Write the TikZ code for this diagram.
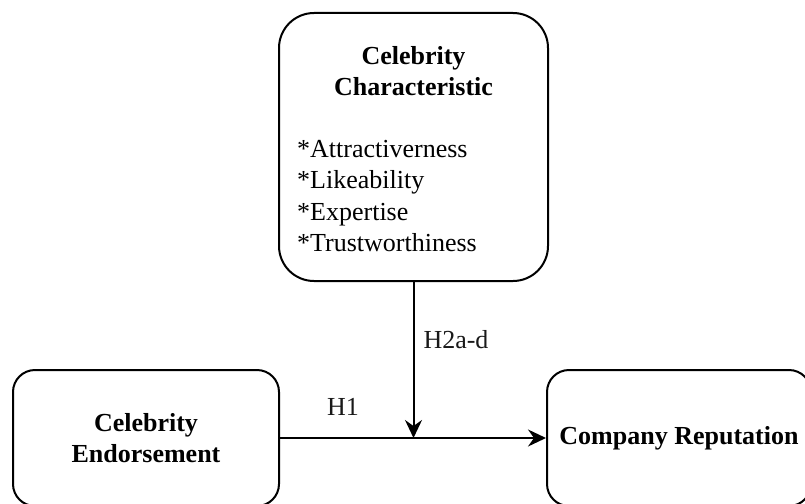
\documentclass[tikz,border=0pt]{standalone}
\usepackage{fontspec}
\setmainfont{Liberation Serif}
\usetikzlibrary{arrows.meta}
\begin{document}
\begin{tikzpicture}[x=1pt,y=-1pt,
  every node/.style={font=\fontsize{26}{31.5}\selectfont, inner sep=0pt},
  box/.style={draw=black, line width=2pt, fill=white},
  conn/.style={line width=2pt, -{Stealth[length=18pt,width=17pt,inset=6pt]}},
  lbl/.style={text=black!90}]
\useasboundingbox (0,0) rectangle (805,503);
\node[box, rounded corners=35pt, minimum width=269pt, minimum height=268pt] (top) at (413.5,147) {};
\node[align=center, font=\fontsize{26}{31.5}\selectfont\bfseries] (toptitle) at (413.5,71) {Celebrity\\Characteristic};
\node[align=left, anchor=west] (toplist) at (297,196) {*Attractiverness\\*Likeability\\*Expertise\\*Trustworthiness};
\node[box, rounded corners=22pt, minimum width=266pt, minimum height=136pt, align=center, font=\fontsize{26}{31.5}\selectfont\bfseries] (left) at (146,438) {Celebrity\\Endorsement};
\node[box, rounded corners=22pt, minimum width=264pt, minimum height=136pt, font=\fontsize{26}{31.5}\selectfont\bfseries] (right) at (679,438) {Company Reputation};
\coordinate (j) at (top.south |- left.east);
\draw[conn] (left.east) -- (right.west);
\draw[conn] (top.south) -- (j);
\node[lbl] (h2) at (456,340) {H2a-d};
\node[lbl] (h1) at (343,407) {H1};
\end{tikzpicture}
\end{document}
